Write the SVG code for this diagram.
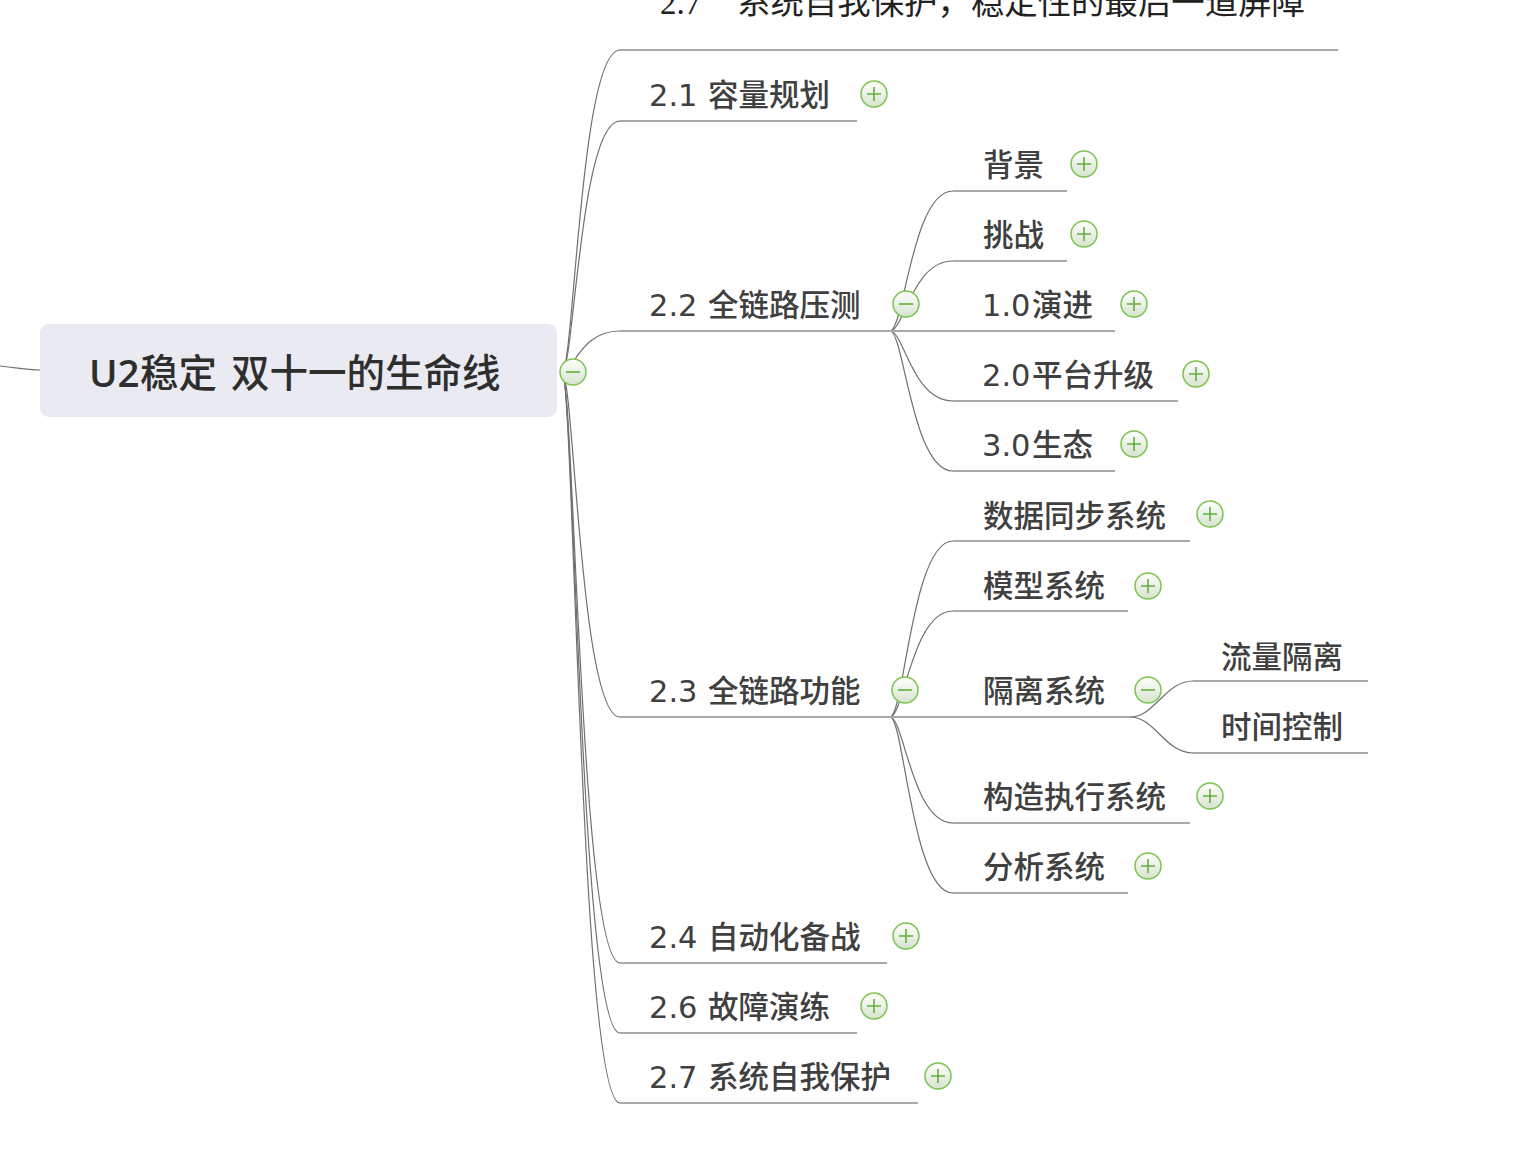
<svg xmlns="http://www.w3.org/2000/svg" width="1524" height="1156" viewBox="0 0 1524 1156">
<defs>
<linearGradient id="btn" x1="0" y1="0" x2="0" y2="1">
<stop offset="0" stop-color="#ffffff"/>
<stop offset="1" stop-color="#d6e3cf"/>
</linearGradient>
<g id="plus"><circle r="13" fill="url(#btn)" stroke="#7cc450" stroke-width="1.5"/><path d="M-7 0H7M0 -7V7" stroke="#62b03c" stroke-width="1.6"/></g>
<g id="minus"><circle r="13" fill="url(#btn)" stroke="#7cc450" stroke-width="1.5"/><path d="M-7 0H7" stroke="#62b03c" stroke-width="1.6"/></g>
</defs>
<style>
.t{font-family:"Noto Sans CJK SC","Noto Sans",sans-serif;fill:#404040;font-size:30.5px;font-weight:500}
.r{font-family:"Noto Sans CJK SC","Noto Sans",sans-serif;fill:#2e2e2e;font-size:38.5px;font-weight:500}
.n{font-family:"Open Sans","Noto Sans",sans-serif;font-weight:600}
.d{font-family:"DejaVu Sans","Noto Sans",sans-serif;font-weight:400}
.u{stroke:#a9a9a9;stroke-width:2;fill:none}
.c{stroke:#707070;stroke-width:1.2;fill:none}
</style>
<rect width="1524" height="1156" fill="#ffffff"/>
<g id="connectors">
<path class="c" d="M0 366 C20 368 25 370 40 370"/>
<path class="c" d="M562 372 C574 372 580 50 620 50"/>
<path class="c" d="M562 372 C574 372 580 121 620 121"/>
<path class="c" d="M562 372 C574 372 580 331 620 331"/>
<path class="c" d="M562 372 C574 372 580 717 620 717"/>
<path class="c" d="M562 372 C574 372 580 963 620 963"/>
<path class="c" d="M562 372 C574 372 580 1033 620 1033"/>
<path class="c" d="M562 372 C574 372 580 1103 620 1103"/>
<path class="c" d="M890 331 C904 331 912 191 953 191"/>
<path class="c" d="M890 331 C904 331 912 261 953 261"/>
<path class="c" d="M890 331 C904 331 912 401 953 401"/>
<path class="c" d="M890 331 C904 331 912 471 953 471"/>
<path class="c" d="M890 717 C904 717 912 541 953 541"/>
<path class="c" d="M890 717 C904 717 912 611 953 611"/>
<path class="c" d="M890 717 C904 717 912 823 953 823"/>
<path class="c" d="M890 717 C904 717 912 893 953 893"/>
<path class="c" d="M1130 717 C1155 717 1165 681 1193 681"/>
<path class="c" d="M1130 717 C1155 717 1165 753 1193 753"/>
</g>
<g id="root">
<rect x="40" y="324" width="517" height="93" rx="9" fill="#e9eaf2"/>
<text class="r" y="387"><tspan class="n" x="89">U2</tspan><tspan x="140">稳定</tspan><tspan x="231">双十一的生命线</tspan></text>
<use href="#minus" x="573" y="372"/>
</g>
<g id="n27top">
<text x="660" y="14" font-family="Liberation Serif,'Noto Sans CJK SC',serif" font-size="33" fill="#222">2.7</text>
<text x="737" y="14" font-family="Liberation Serif,'Noto Sans CJK SC',serif" font-size="33" fill="#222" textLength="568" lengthAdjust="spacingAndGlyphs">系统自我保护，稳定性的最后一道屏障</text>
<path class="u" d="M620 50H1338"/>
</g>
<g id="n21"><text class="t" y="106"><tspan class="d" x="649">2.1</tspan><tspan x="708">容量规划</tspan></text><path class="u" d="M620 121H857"/><use href="#plus" x="874" y="94"/></g>
<g id="n22"><text class="t" y="316"><tspan class="d" x="649">2.2</tspan><tspan x="708">全链路压测</tspan></text><path class="u" d="M620 331H890"/><use href="#minus" x="906" y="304"/></g>
<g id="n22a"><text class="t" x="983" y="176">背景</text><path class="u" d="M953 191H1067"/><use href="#plus" x="1084" y="164"/></g>
<g id="n22b"><text class="t" x="983" y="246">挑战</text><path class="u" d="M953 261H1067"/><use href="#plus" x="1084" y="234"/></g>
<g id="n22c"><text class="t" y="316"><tspan class="d" x="982">1.0</tspan><tspan x="1032">演进</tspan></text><path class="u" d="M890 331H1115"/><use href="#plus" x="1134" y="304"/></g>
<g id="n22d"><text class="t" y="386"><tspan class="d" x="982">2.0</tspan><tspan x="1032">平台升级</tspan></text><path class="u" d="M953 401H1178"/><use href="#plus" x="1196" y="374"/></g>
<g id="n22e"><text class="t" y="456"><tspan class="d" x="982">3.0</tspan><tspan x="1032">生态</tspan></text><path class="u" d="M953 471H1115"/><use href="#plus" x="1134" y="444"/></g>
<g id="n23"><text class="t" y="702"><tspan class="d" x="649">2.3</tspan><tspan x="708">全链路功能</tspan></text><path class="u" d="M620 717H890"/><use href="#minus" x="905" y="690"/></g>
<g id="n23a"><text class="t" x="983" y="527">数据同步系统</text><path class="u" d="M953 541H1190"/><use href="#plus" x="1210" y="514"/></g>
<g id="n23b"><text class="t" x="983" y="597">模型系统</text><path class="u" d="M953 611H1128"/><use href="#plus" x="1148" y="586"/></g>
<g id="n23c"><text class="t" x="983" y="702">隔离系统</text><path class="u" d="M890 717H1130"/><use href="#minus" x="1148" y="690"/></g>
<g id="n23c1"><text class="t" x="1221" y="668">流量隔离</text><path class="u" d="M1193 681H1368"/></g>
<g id="n23c2"><text class="t" x="1221" y="738">时间控制</text><path class="u" d="M1193 753H1368"/></g>
<g id="n23d"><text class="t" x="983" y="808">构造执行系统</text><path class="u" d="M953 823H1190"/><use href="#plus" x="1210" y="796"/></g>
<g id="n23e"><text class="t" x="983" y="878">分析系统</text><path class="u" d="M953 893H1128"/><use href="#plus" x="1148" y="866"/></g>
<g id="n24"><text class="t" y="948"><tspan class="d" x="649">2.4</tspan><tspan x="708">自动化备战</tspan></text><path class="u" d="M620 963H887"/><use href="#plus" x="906" y="936"/></g>
<g id="n26"><text class="t" y="1018"><tspan class="d" x="649">2.6</tspan><tspan x="708">故障演练</tspan></text><path class="u" d="M620 1033H857"/><use href="#plus" x="874" y="1006"/></g>
<g id="n27"><text class="t" y="1088"><tspan class="d" x="649">2.7</tspan><tspan x="708">系统自我保护</tspan></text><path class="u" d="M620 1103H918"/><use href="#plus" x="938" y="1076"/></g>
</svg>
